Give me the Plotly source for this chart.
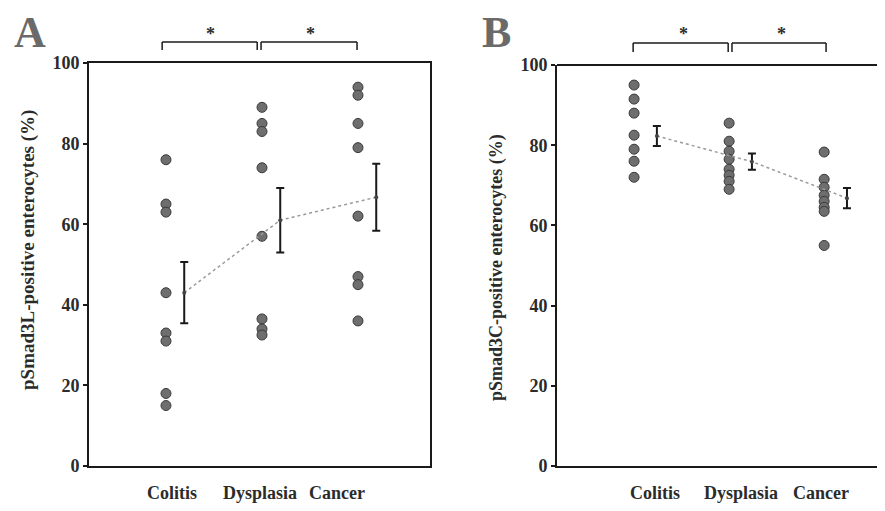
import plotly.graph_objects as go

categories = ["Colitis", "Dysplasia", "Cancer"]

# Panel A: pSmad3L-positive enterocytes (%)
a_colitis = [76, 65, 63, 43, 33, 31, 18, 15]
a_dysplasia = [89, 85, 83, 74, 57, 36.5, 34, 32.5]
a_cancer = [94, 92, 85, 79, 62, 47, 45, 36]
a_means = [43, 61, 66.7]
a_err = [7.6, 8.0, 8.3]

# Panel B: pSmad3C-positive enterocytes (%)
b_colitis = [95, 91.5, 88, 82.5, 79, 76, 72]
b_dysplasia = [85.5, 81, 78.5, 76.5, 74, 72.5, 71, 69]
b_cancer = [78.3, 71.5, 69.5, 67.5, 66, 64.5, 63.5, 55]
b_means = [82.3, 75.9, 66.8]
b_err = [2.5, 2.0, 2.5]

y_ticks = [0, 20, 40, 60, 80, 100]
title_a = "pSmad3L-positive enterocytes (%)"
title_b = "pSmad3C-positive enterocytes (%)"

OFF = 8  # default page body margin
W, H = 885 - OFF, 511 - OFF
FONT = "Liberation Serif"
TXT = "#2b2b2b"
DOT = "#6e6e6e"

def px(v):
    return (v - OFF) / W

def py(v):
    return 1 - (v - OFF) / H

fig = go.Figure()

panels = [
    dict(xa="x", ya="y", groups=[a_colitis, a_dysplasia, a_cancer], means=a_means, err=a_err, off=0.19),
    dict(xa="x2", ya="y2", groups=[b_colitis, b_dysplasia, b_cancer], means=b_means, err=b_err, off=0.24),
]

for p in panels:
    for i, g in enumerate(p["groups"]):
        fig.add_trace(go.Scatter(
            x=[i + 1] * len(g), y=g, mode="markers", xaxis=p["xa"], yaxis=p["ya"],
            marker=dict(size=10, color=DOT, line=dict(color="#3a3a3a", width=1)),
            showlegend=False, cliponaxis=False))
    xs = [i + 1 + p["off"] for i in range(3)]
    fig.add_trace(go.Scatter(
        x=xs, y=p["means"], mode="lines", xaxis=p["xa"], yaxis=p["ya"],
        line=dict(color="#9a9a9a", width=1.5, dash="dot"), showlegend=False))
    fig.add_trace(go.Scatter(
        x=xs, y=p["means"], mode="markers", xaxis=p["xa"], yaxis=p["ya"],
        marker=dict(size=4, color="#444"),
        error_y=dict(type="data", array=p["err"], visible=True, color="#1a1a1a", thickness=2, width=4),
        showlegend=False))

axis_line = dict(showline=True, linecolor="#1a1a1a", linewidth=2, showgrid=False, zeroline=False,
                 automargin=False)
yfont = dict(family=FONT, size=18, color=TXT, weight="bold")

fig.update_layout(
    width=W, height=H, margin=dict(l=0, r=0, t=0, b=0, autoexpand=False),
    paper_bgcolor="white", plot_bgcolor="white",
    xaxis=dict(domain=[px(89), px(430)], range=[0.198, 3.75], anchor="y",
               showticklabels=False, ticks="", mirror=True, **axis_line),
    yaxis=dict(domain=[py(466), py(63)], range=[0, 100], anchor="x",
               tickvals=y_ticks, ticks="outside", ticklen=4, tickwidth=1.5, tickcolor="#1a1a1a",
               tickfont=yfont, mirror=True, **axis_line),
    xaxis2=dict(domain=[px(557), 1.0], range=[0.189, 3.64], anchor="y2",
                showticklabels=False, ticks="", mirror=False, **axis_line),
    yaxis2=dict(domain=[py(466), py(65)], range=[0, 100], anchor="x2",
                tickvals=y_ticks, ticks="outside", ticklen=4, tickwidth=1.5, tickcolor="#1a1a1a",
                tickfont=yfont, mirror=False, **axis_line),
)

# top border for panel B (no right border visible)
fig.add_shape(type="line", xref="paper", yref="paper", x0=px(557), x1=1.0, y0=py(65), y1=py(65),
              line=dict(color="#1a1a1a", width=2))

def note(x, y, text, size, xref="paper", angle=0, color=TXT):
    fig.add_annotation(x=x, y=y, xref=xref, yref="paper", text=text, textangle=angle,
                       xanchor="center", yanchor="middle", showarrow=False,
                       font=dict(family=FONT, size=size, color=color, weight="bold"))

# category labels
label_off_a = [0.06, -0.02, -0.22]
label_off_b = [0.22, 0.12, -0.03]
for i, c in enumerate(categories):
    note(i + 1 + label_off_a[i], py(493), c, 18, xref="x")
    note(i + 1 + label_off_b[i], py(493), c, 18, xref="x2")

# axis titles
note(px(28), py(250), title_a, 19, angle=-90)
note(px(496), py(268), title_b, 18, angle=-90)

# panel letters
note(px(30), py(33), "A", 44, color="#6a6a6a")
note(px(497), py(33), "B", 44, color="#6a6a6a")

# significance brackets
def bracket(xref, x0, x1, ytop, ybot):
    ln = dict(color="#1a1a1a", width=1.5)
    fig.add_shape(type="line", xref=xref, yref="paper", x0=x0, x1=x1, y0=py(ytop), y1=py(ytop), line=ln)
    fig.add_shape(type="line", xref=xref, yref="paper", x0=x0, x1=x0, y0=py(ytop), y1=py(ybot), line=ln)
    fig.add_shape(type="line", xref=xref, yref="paper", x0=x1, x1=x1, y0=py(ytop), y1=py(ybot), line=ln)

bracket("x", 0.96, 1.95, 42, 50)
bracket("x", 1.99, 2.99, 42, 50)
bracket("x2", 0.99, 1.99, 43, 52)
bracket("x2", 2.03, 3.02, 43, 52)

for xr, xs in (("x", [1.46, 2.5]), ("x2", [1.52, 2.55])):
    for xv in xs:
        note(xv, py(34), "*", 18, xref=xr)

fig.write_html("out.html")
